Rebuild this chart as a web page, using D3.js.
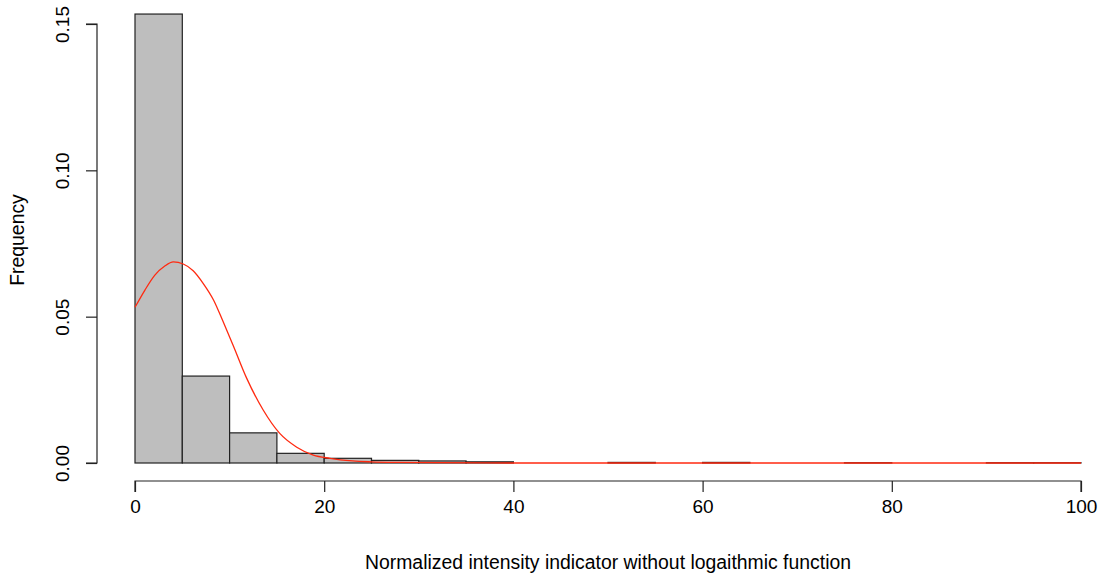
<!DOCTYPE html>
<html lang="en">
<head>
<meta charset="UTF-8">
<title>Histogram</title>
<script src="https://cdn.jsdelivr.net/npm/d3@7/dist/d3.min.js"></script>
<style>
  body { margin: 0; background: #fff; }
  text { font-family: "Liberation Sans", Arial, sans-serif; fill: #000; }
</style>
</head>
<body>
<div id="box"></div>
<script>
// histogram bins (width 5) and their density heights
const binStarts = [0, 5, 10, 15, 20, 25, 30, 35, 40, 45, 50, 55, 60, 65, 70, 75, 80, 85, 90, 95];
const binHeights = [0.1534, 0.0297, 0.0103, 0.0033, 0.0016, 0.0009, 0.0007, 0.0004, 0, 0,
                    0.0002, 0, 0.0002, 0, 0, 0.0001, 0, 0, 0.0001, 0.0001];
const binWidth = 5;

// red density curve
const curveX = [0, 1.05, 2.1, 3.15, 4.05, 5.1, 6.15, 7.2, 8.3, 9.3, 10.4, 11.8, 13.55, 15.3, 17.1, 18.85, 20.6, 21.7, 23, 25, 28, 32, 40, 100];
const curveY = [0.0532, 0.0591, 0.0642, 0.0673, 0.0687, 0.0680, 0.0657, 0.0614, 0.0557, 0.0484, 0.0400, 0.0290, 0.0181, 0.0101, 0.0054, 0.0027, 0.0016, 0.0011, 0.0007, 0.0004, 0.0002, 0.0001, 0, 0];

const xTicks = [0, 20, 40, 60, 80, 100];
const yTicks = [0, 0.05, 0.10, 0.15];

const svg = d3.select("#box").append("svg")
  .attr("width", 1101).attr("height", 579);

const x = d3.scaleLinear().domain([0, 100]).range([135, 1081]);
const y = d3.scaleLinear().domain([0, 0.15]).range([463, 24]);

// bars
svg.append("g").selectAll("rect")
  .data(binStarts.map((s, i) => ({ s, h: binHeights[i] })))
  .join("rect")
  .attr("x", d => x(d.s))
  .attr("width", d => x(d.s + binWidth) - x(d.s))
  .attr("y", d => y(d.h))
  .attr("height", d => y(0) - y(d.h))
  .attr("fill", "#bebebe")
  .attr("stroke", "#222")
  .attr("stroke-width", 1.2);

// density line
const line = d3.line()
  .x(d => x(d[0]))
  .y(d => y(d[1]))
  .curve(d3.curveMonotoneX);
svg.append("path")
  .datum(curveX.map((v, i) => [v, curveY[i]]))
  .attr("d", line)
  .attr("fill", "none")
  .attr("stroke", "#ff2a10")
  .attr("stroke-width", 1.3);

// x axis (R style)
const xAxis = d3.axisBottom(x).tickValues(xTicks).tickSize(11).tickPadding(8).tickFormat(d3.format("d"));
svg.append("g")
  .attr("transform", "translate(0,481)")
  .call(xAxis)
  .call(g => g.select(".domain").attr("d", `M${x(0)},11V0H${x(100)}V11`).attr("stroke", "#222").attr("stroke-width", 1.2))
  .call(g => g.selectAll(".tick line").attr("stroke", "#222").attr("stroke-width", 1.2))
  .call(g => g.selectAll(".tick text").attr("font-size", 19).attr("fill", "#000")
    .attr("font-family", "Liberation Sans, Arial, sans-serif"));

// y axis (R style, rotated labels)
const yAxis = d3.axisLeft(y).tickValues(yTicks).tickSize(11).tickFormat(d3.format(".2f"));
svg.append("g")
  .attr("transform", "translate(97,0)")
  .call(yAxis)
  .call(g => g.select(".domain").attr("d", `M-11,${y(0)}H0V${y(0.15)}H-11`).attr("stroke", "#222").attr("stroke-width", 1.2))
  .call(g => g.selectAll(".tick line").attr("stroke", "#222").attr("stroke-width", 1.2))
  .call(g => g.selectAll(".tick text")
    .attr("font-size", 19).attr("fill", "#000")
    .attr("font-family", "Liberation Sans, Arial, sans-serif")
    .attr("x", null).attr("dy", null)
    .attr("text-anchor", "middle")
    .attr("transform", "translate(-28,0) rotate(-90)"));

// axis titles
svg.append("text")
  .attr("x", 608).attr("y", 569)
  .attr("text-anchor", "middle")
  .attr("font-size", 19.4)
  .text("Normalized intensity indicator without logaithmic function");

svg.append("text")
  .attr("transform", "translate(24,240) rotate(-90)")
  .attr("text-anchor", "middle")
  .attr("font-size", 19.4)
  .text("Frequency");
</script>
</body>
</html>
